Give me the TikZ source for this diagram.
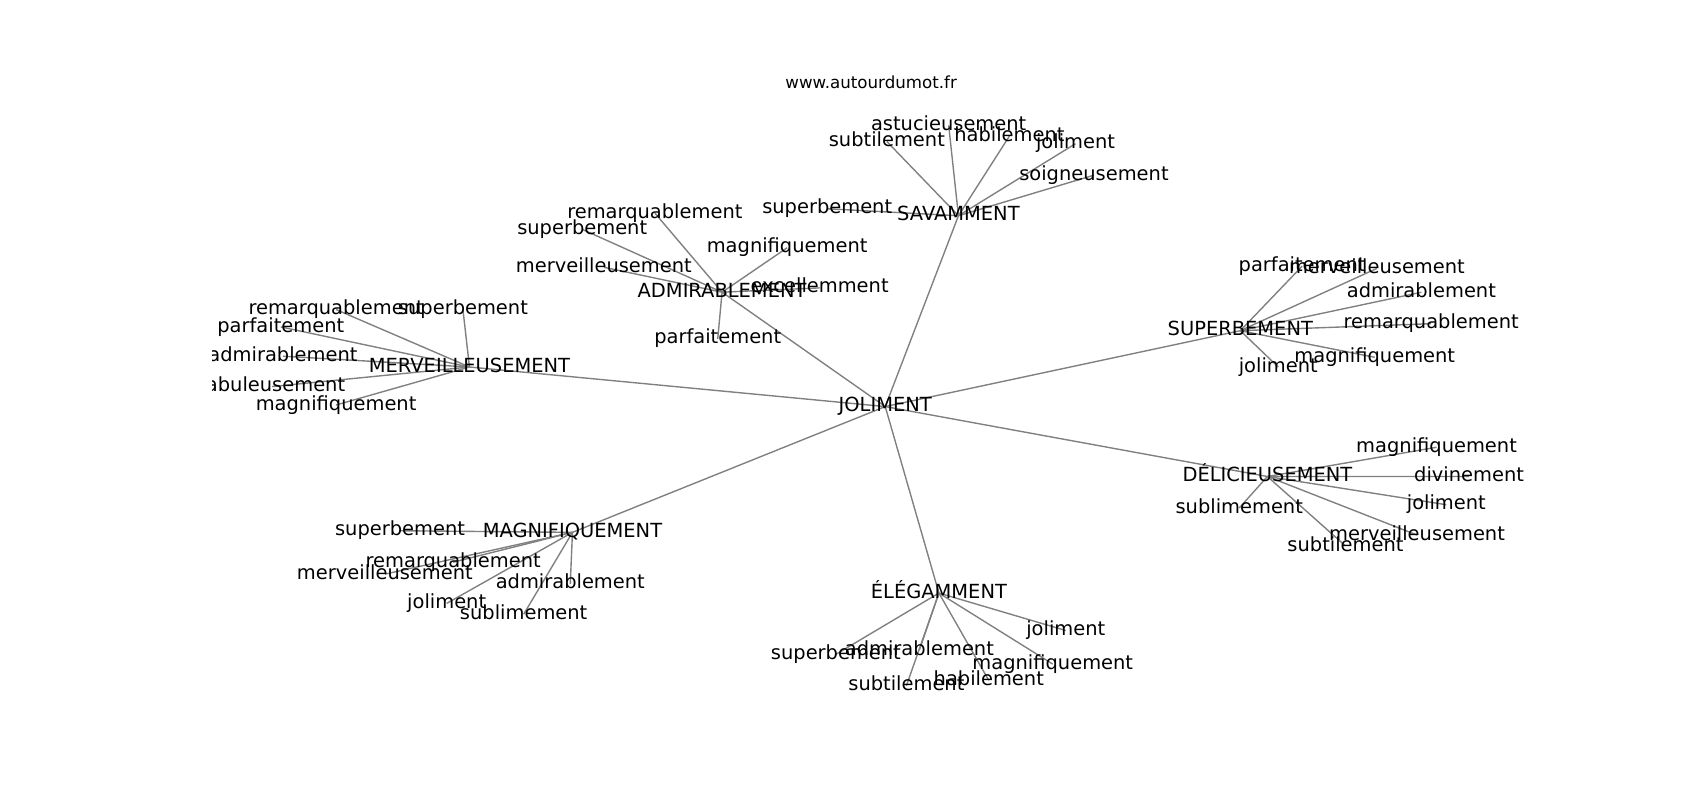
\documentclass[tikz,border=0pt]{standalone}
\usepackage{fontspec}
\setmainfont{DejaVu Sans}
\usetikzlibrary{backgrounds}
\tikzset{
  lbl/.style={font=\fontsize{14}{16}\selectfont, inner sep=0pt, text height=10.64pt, text depth=3.3pt, anchor=center},
  leaf/.style={lbl, yshift=-1.2pt},
  ttl/.style={font=\fontsize{12}{14}\selectfont, inner sep=0pt, anchor=base},
  edge/.style={draw=black!50, line width=1pt}
}
\begin{document}
\begin{tikzpicture}[x=0.78061pt, y=-0.78061pt]
\path[use as bounding box] (0,0) rectangle (1568,738);
\node[ttl] (title) at (803.5,81.5) {www.autourdumot.fr};
\begin{scope}
\clip (196,88.5) rectangle (1411,657);
\foreach \n/\t/\x/\y in {
 j/JOLIMENT/816.5/375,
 sav/SAVAMMENT/884/199,
 adm/ADMIRABLEMENT/666/269.5,
 mer/MERVEILLEUSEMENT/433/338.5,
 sup/SUPERBEMENT/1144/305,
 del/DÉLICIEUSEMENT/1169/439.5,
 mag/MAGNIFIQUEMENT/528/491,
 ele/ÉLÉGAMMENT/866/547}
 {\node[lbl] (\n) at (\x,\y) {\t};}
\foreach \n/\t/\x/\y in {
 sav1/astucieusement/875/114, sav2/subtilement/818/129, sav3/habilement/931/124,
 sav4/joliment/992/131, sav5/soigneusement/1009/160, sav6/superbement/763/191,
 adm1/remarquablement/604/195, adm2/superbement/537/210, adm3/merveilleusement/557/245,
 adm4/magnifiquement/726/227, adm5/excellemment/756/264, adm6/parfaitement/662/311,
 mer1/remarquablement/310/284, mer2/superbement/427/284, mer3/parfaitement/259/300,
 mer4/admirablement/261/327, mer5/fabuleusement/251/355, mer6/magnifiquement/310/372,
 sup1/parfaitement/1201/244, sup2/merveilleusement/1270/246, sup3/admirablement/1311/268,
 sup4/remarquablement/1320/297, sup5/magnifiquement/1268/328, sup6/joliment/1179/337,
 del1/magnifiquement/1325/411, del2/divinement/1355/438, del3/joliment/1334/464,
 del4/sublimement/1143/467, del5/merveilleusement/1307/492, del6/subtilement/1241/502,
 mag1/superbement/369/488, mag2/remarquablement/418/517, mag3/merveilleusement/355/528,
 mag4/admirablement/526/537, mag5/joliment/412/555, mag6/sublimement/483/565,
 ele1/joliment/983/580, ele2/superbement/771/602, ele3/admirablement/848/598,
 ele4/magnifiquement/971/611, ele5/habilement/912/626, ele6/subtilement/836/631}
 {\node[leaf] (\n) at (\x,\y) {\t};}
\end{scope}
\begin{pgfonlayer}{background}
\foreach \h in {sav,adm,mer,sup,del,mag,ele}{
  \draw[edge] (j.center) -- (\h.center);
  \foreach \k in {1,...,6}{\draw[edge] (\h.center) -- (\h\k.center);}
}
\end{pgfonlayer}
\end{tikzpicture}
\end{document}
